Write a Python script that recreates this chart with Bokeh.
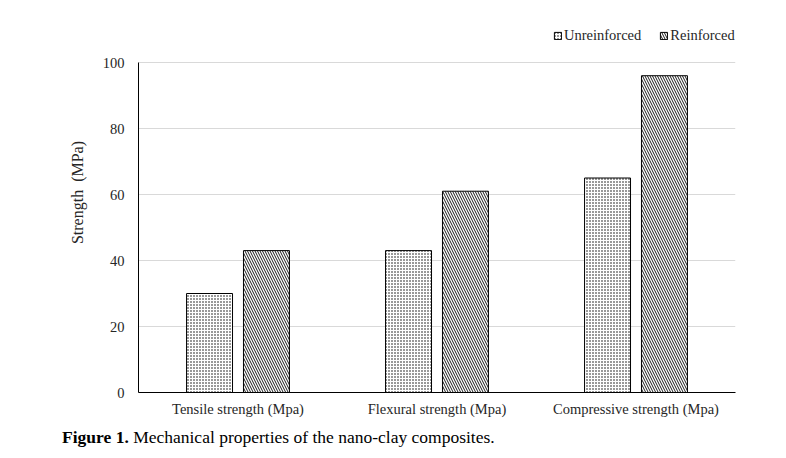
from bokeh.plotting import figure
from bokeh.models import ColumnDataSource, FactorRange, Range1d, Legend, LegendItem, Div
from bokeh.layouts import column
from bokeh.transform import dodge
from bokeh.embed import file_html
from bokeh.resources import INLINE

categories = ["Tensile strength (Mpa)", "Flexural strength (Mpa)", "Compressive strength (Mpa)"]
unreinforced = [30, 43, 65]
reinforced = [43, 61, 96]
y_ticks = [0, 20, 40, 60, 80, 100]
y_title = "Strength\u00a0 (MPa)"
caption_bold = "Figure 1."
caption_text = "Mechanical properties of the nano-clay composites."

FONT = "Liberation Serif"
TXT = "#262626"

src = ColumnDataSource(dict(cat=categories, u=unreinforced, r=reinforced))

# frame extends above 100 so the legend can sit inside it; axis line is bounded to 0..100
p = figure(width=786, height=420, x_range=FactorRange(*categories, range_padding=0),
           y_range=Range1d(0, 112.73), output_backend="svg", toolbar_location=None,
           min_border_left=138, min_border_right=51, min_border_top=20, min_border_bottom=28)
p.outline_line_color = None
p.background_fill_color = "white"

r1 = p.vbar(x=dodge("cat", -0.143, range=p.x_range), top="u", width=0.231, source=src,
            fill_color="white", line_color="black", line_width=1,
            hatch_pattern="dot", hatch_color="black", hatch_scale=3, hatch_weight=0.8)
r2 = p.vbar(x=dodge("cat", 0.143, range=p.x_range), top="r", width=0.231, source=src,
            fill_color="white", line_color="black", line_width=1,
            hatch_pattern="left_diagonal_line", hatch_color="black", hatch_scale=5, hatch_weight=0.9)

p.yaxis.ticker = y_ticks
p.yaxis.bounds = (0, 100)
p.ygrid.grid_line_color = "#d9d9d9"
p.xgrid.grid_line_color = None
p.yaxis.axis_line_color = "black"
p.xaxis.axis_line_color = "black"
for ax in (p.xaxis, p.yaxis):
    ax.major_tick_line_color = None
    ax.minor_tick_line_color = None
    ax.major_label_text_font = FONT
    ax.major_label_text_font_size = "14.5px"
    ax.major_label_text_color = TXT
p.yaxis.major_label_standoff = 8
p.xaxis.major_label_standoff = 2
p.yaxis.axis_label = "\u00a0" * 7 + y_title
p.yaxis.axis_label_text_font = FONT
p.yaxis.axis_label_text_font_size = "16px"
p.yaxis.axis_label_text_font_style = "normal"
p.yaxis.axis_label_text_color = TXT
p.yaxis.axis_label_standoff = 14

legend = Legend(items=[LegendItem(label="Unreinforced", renderers=[r1]),
                       LegendItem(label="Reinforced", renderers=[r2])],
                orientation="horizontal", location=(415, 348),
                label_text_font=FONT, label_text_font_size="14.5px", label_text_color=TXT,
                glyph_width=9, glyph_height=9, label_standoff=2, spacing=18,
                label_height=16, border_line_color=None, background_fill_alpha=0,
                padding=0, margin=0)
p.add_layout(legend, "center")

cap = Div(text=f"<b>{caption_bold}</b> {caption_text}", width=786, height=38, margin=0,
          styles={"font-family": FONT, "font-size": "17.5px", "line-height": "20px",
                  "color": "black", "padding-left": "62px", "padding-top": "7px",
                  "box-sizing": "border-box", "white-space": "nowrap"})

layout = column(p, cap, spacing=0)
open("out.html", "w").write(file_html(layout, INLINE))
